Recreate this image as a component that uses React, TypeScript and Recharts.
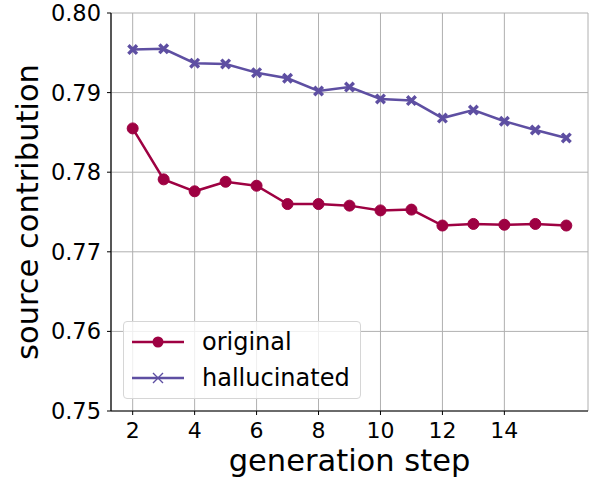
import { LineChart, Line, XAxis, YAxis, CartesianGrid, Legend } from 'recharts'

const steps = [2, 3, 4, 5, 6, 7, 8, 9, 10, 11, 12, 13, 14, 15, 16]
const original = [0.7855, 0.7791, 0.7776, 0.7788, 0.7783, 0.7760, 0.7760, 0.7758, 0.7752, 0.7753, 0.7733, 0.7735, 0.7734, 0.7735, 0.7733]
const hallucinated = [0.7954, 0.7955, 0.7937, 0.7936, 0.7925, 0.7918, 0.7902, 0.7907, 0.7892, 0.7890, 0.7868, 0.7878, 0.7864, 0.7853, 0.7843]
const xTicks = [2, 4, 6, 8, 10, 12, 14]
const yTicks = [0.75, 0.76, 0.77, 0.78, 0.79, 0.8]

const RED = '#9e0142'
const PURPLE = '#5e4fa2'
const FONT = 'DejaVu Sans'

const data = steps.map((s, i) => ({ step: s, original: original[i], hallucinated: hallucinated[i] }))

const XDot = (props: any) => {
  const { cx, cy, index } = props
  const d = 4.3
  return (
    <path
      key={'x' + index}
      d={`M${cx - d},${cy - d}L${cx + d},${cy + d}M${cx - d},${cy + d}L${cx + d},${cy - d}`}
      stroke={PURPLE}
      strokeWidth={3.4}
      fill="none"
    />
  )
}

const LegendBox = () => (
  <div
    style={{
      position: 'relative',
      width: 238,
      height: 78,
      boxSizing: 'border-box',
      border: '1px solid #d6d6d6',
      borderRadius: 4,
      background: 'rgba(255,255,255,0.8)',
      fontFamily: FONT,
      fontSize: 24,
      color: '#000',
    }}
  >
    <svg width={60} height={78} style={{ position: 'absolute', left: 0, top: 0 }}>
      <line x1={8} y1={20} x2={60} y2={20} stroke={RED} strokeWidth={2.5} />
      <circle cx={34} cy={20} r={5.5} fill={RED} />
      <line x1={8} y1={56} x2={60} y2={56} stroke={PURPLE} strokeWidth={2.5} />
      <path d="M29,51L39,61M29,61L39,51" stroke={PURPLE} strokeWidth={1.4} />
    </svg>
    <div style={{ position: 'absolute', left: 78, top: 20, transform: 'translateY(-50%)', lineHeight: 1 }}>original</div>
    <div style={{ position: 'absolute', left: 78, top: 56, transform: 'translateY(-50%)', lineHeight: 1 }}>hallucinated</div>
  </div>
)

const YLabel = (props: any) => {
  const { viewBox } = props
  const cx = 38
  const cy = viewBox.y + viewBox.height / 2
  return (
    <text x={cx} y={cy} transform={`rotate(-90 ${cx} ${cy})`} textAnchor="middle" fontFamily={FONT} fontSize={30.5} fill="#000">
      source contribution
    </text>
  )
}

export default function App() {
  return (
    <div style={{ position: 'absolute', left: 0, top: 0, width: 589, height: 481, background: '#fff' }}>
      <LineChart width={589} height={481} data={data} margin={{ top: 13, right: 1, bottom: 0, left: 0 }} style={{ fontFamily: FONT }}>
        <CartesianGrid stroke="#b0b0b0" strokeWidth={1} />
        <XAxis
          dataKey="step"
          type="number"
          domain={[1.3, 16.7]}
          ticks={xTicks}
          height={70}
          tickSize={4}
          tickMargin={7}
          axisLine={{ stroke: '#000', strokeWidth: 1.2 }}
          tickLine={{ stroke: '#000', strokeWidth: 1 }}
          tick={{ fill: '#000', fontSize: 22, fontFamily: FONT }}
          label={{ value: 'generation step', position: 'insideBottom', offset: 10, fontSize: 30.5, fontFamily: FONT, fill: '#000' }}
        />
        <XAxis xAxisId="top" dataKey="step" type="number" orientation="top" domain={[1.3, 16.7]} height={0} tick={false} tickLine={false} axisLine={{ stroke: '#000', strokeWidth: 1.2 }} />
        <YAxis
          type="number"
          domain={[0.75, 0.8]}
          ticks={yTicks}
          width={111}
          tickSize={4}
          tickMargin={6}
          tickFormatter={(v: number) => v.toFixed(2)}
          axisLine={{ stroke: '#000', strokeWidth: 1.2 }}
          tickLine={{ stroke: '#000', strokeWidth: 1 }}
          tick={{ fill: '#000', fontSize: 22.5, fontFamily: FONT }}
          label={<YLabel />}
        />
        <YAxis yAxisId="right" orientation="right" type="number" domain={[0.75, 0.8]} width={0} tick={false} tickLine={false} axisLine={{ stroke: '#000', strokeWidth: 1.2 }} />
        <Line
          type="linear"
          dataKey="original"
          stroke={RED}
          strokeWidth={2.5}
          dot={{ r: 5.5, fill: RED, stroke: RED, strokeWidth: 1 }}
          isAnimationActive={false}
        />
        <Line
          type="linear"
          dataKey="hallucinated"
          stroke={PURPLE}
          strokeWidth={2.5}
          dot={<XDot />}
          isAnimationActive={false}
        />
        <Legend
          layout="horizontal"
          verticalAlign="middle"
          align="center"
          content={<LegendBox />}
          wrapperStyle={{ position: 'absolute', left: 123, top: 321, width: 238, height: 78, margin: 0, padding: 0 }}
        />
      </LineChart>
    </div>
  )
}
